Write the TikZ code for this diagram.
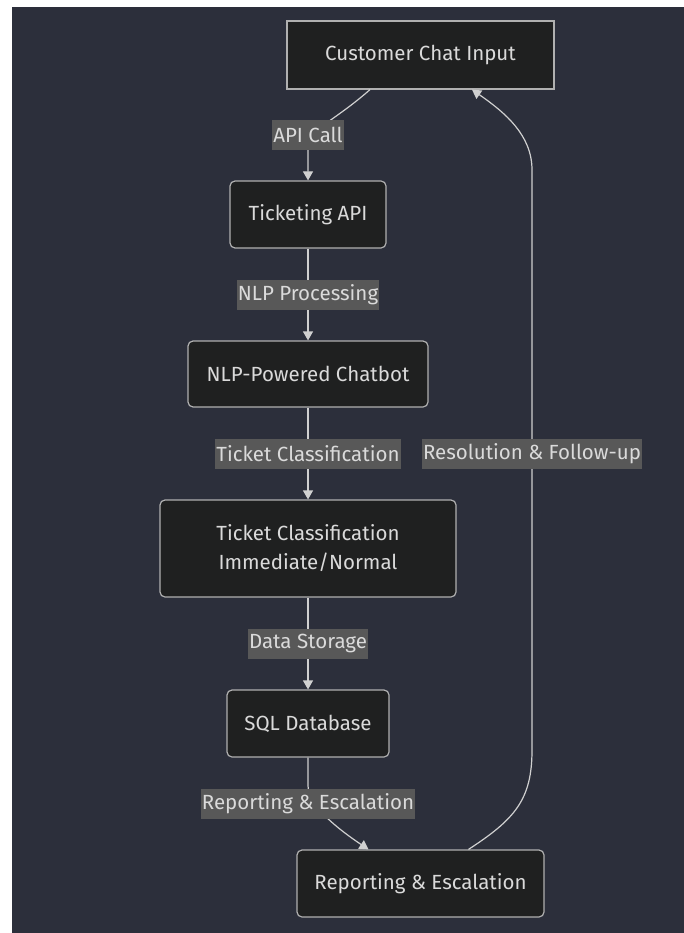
\documentclass[tikz,border=0pt]{standalone}
\usepackage{fontspec}
\setmainfont{Fira Sans}
\usetikzlibrary{arrows.meta}
\definecolor{pagebg}{HTML}{2C2F3B}
\definecolor{boxfill}{HTML}{1F2020}
\definecolor{boxline}{HTML}{B0B0B0}
\definecolor{flowline}{HTML}{D0D0D0}
\definecolor{labelbg}{HTML}{585858}
\definecolor{textgray}{HTML}{DADADA}
\tikzset{
  font={\fontsize{20.5}{29}\selectfont},
  box/.style={draw=boxline, fill=boxfill, text=textgray, line width=1.2pt,
    rounded corners=5pt, align=center, inner sep=0pt},
  tag/.style={fill=labelbg, text=textgray, inner xsep=1pt, inner ysep=0pt,
    minimum height=30pt},
  flow/.style={draw=flowline, line width=1.2pt,
    -{Triangle[width=10pt,length=9pt]}}}

\begin{document}
\begin{tikzpicture}[x=1pt,y=-1pt]
\useasboundingbox (0,0) rectangle (684,933);
\fill[white] (0,0) rectangle (684,933);
\fill[pagebg] (12,7) rectangle (684,933);
\node[box, rounded corners=0pt, minimum width=267pt, minimum height=68pt] (chat) at (420.5,55) {Customer Chat Input};
\node[box, minimum width=156pt, minimum height=67pt] (api) at (308,214.5) {Ticketing API};
\node[box, minimum width=240pt, minimum height=66pt] (bot) at (308,374) {NLP-Powered Chatbot};
\node[box, minimum width=296pt, minimum height=97pt] (cls) at (308,548.5) {Ticket Classification\\Immediate/Normal};
\node[box, minimum width=162pt, minimum height=67pt] (sql) at (308,723.5) {SQL Database};
\node[box, minimum width=247pt, minimum height=67pt] (rep) at (420.5,883.5) {Reporting \& Escalation};
\draw[flow] ([xshift=-50.5pt]chat.south) .. controls +(-35,31) and +(0,-15) .. ([yshift=35pt]api.north) -- (api.north)
  node[tag] (lapi) at (308,135) {API Call};
\draw[flow] (api) -- node[tag] (lbot) {NLP Processing} (bot);
\draw[flow] (bot) -- node[tag] (lcls) {Ticket Classification} (cls);
\draw[flow] (cls) -- node[tag] (lsql) {Data Storage} (sql);
\draw[flow] (sql.south) -- ++(0,28) .. controls +(0,20) and +(-30,-20) .. ([xshift=-52pt]rep.north)
  node[tag] (lrep) at (308,804) {Reporting \& Escalation};
\draw[flow] ([xshift=48pt]rep.north) .. controls +(46,-30) and +(0,50) .. (532,750) -- (532,170)
  .. controls +(0,-35) and +(33,23) .. ([xshift=51.5pt]chat.south)
  node[tag] (lres) at (532,454) {Resolution \& Follow-up};
\end{tikzpicture}
\end{document}
